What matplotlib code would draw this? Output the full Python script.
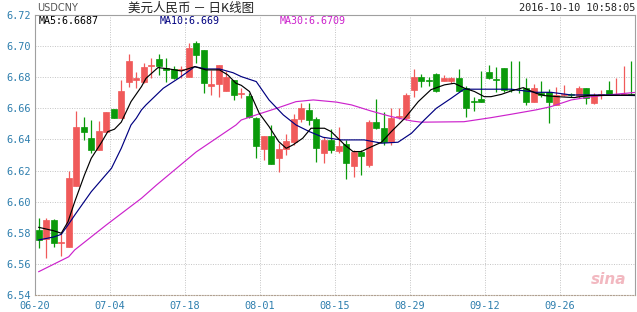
import numpy as np
import matplotlib.pyplot as plt

# ---------------------------------------------------------------------------
# data (USDCNY daily, 2016-06-20 .. 2016-10-10)
# ---------------------------------------------------------------------------

opens = [6.5818, 6.5758, 6.5882, 6.5733, 6.5710, 6.6103, 6.6482, 6.6407, 6.6332, 6.6450,
         6.6596, 6.6540, 6.6768, 6.6782, 6.6772, 6.6872, 6.6918, 6.6858, 6.6851, 6.6848,
         6.6804, 6.7019, 6.6976, 6.6746, 6.6755, 6.6714, 6.6783, 6.6695, 6.6680, 6.6536,
         6.6337, 6.6422, 6.6279, 6.6337, 6.6386, 6.6530, 6.6590, 6.6530, 6.6311, 6.6399,
         6.6326, 6.6369, 6.6232, 6.6322, 6.6236, 6.6511, 6.6476, 6.6382, 6.6545, 6.6536,
         6.6718, 6.6804, 6.6780, 6.6819, 6.6776, 6.6776, 6.6798, 6.6733, 6.6645, 6.6660,
         6.6836, 6.6789, 6.6858, 6.6720, 6.6720, 6.6733, 6.6643, 6.6697, 6.6704, 6.6622,
         6.6688, 6.6690, 6.6681, 6.6733, 6.6633, 6.6688, 6.6718, 6.6688, 6.6688, 6.6692]
closes = [6.5754, 6.5882, 6.5736, 6.5738, 6.6150, 6.6482, 6.6446, 6.6332, 6.6455, 6.6575,
          6.6540, 6.6712, 6.6905, 6.6793, 6.6868, 6.6878, 6.6875, 6.6847, 6.6798, 6.6855,
          6.6987, 6.6943, 6.6761, 6.6755, 6.6879, 6.6804, 6.6686, 6.6699, 6.6547, 6.6358,
          6.6422, 6.6242, 6.6337, 6.6390, 6.6530, 6.6600, 6.6525, 6.6343, 6.6397, 6.6329,
          6.6360, 6.6247, 6.6322, 6.6294, 6.6511, 6.6476, 6.6382, 6.6540, 6.6549, 6.6686,
          6.6804, 6.6778, 6.6776, 6.6712, 6.6798, 6.6798, 6.6712, 6.6601, 6.6641, 6.6639,
          6.6798, 6.6785, 6.6718, 6.6716, 6.6716, 6.6643, 6.6733, 6.6686, 6.6643, 6.6686,
          6.6692, 6.6686, 6.6733, 6.6665, 6.6686, 6.6692, 6.6686, 6.6692, 6.6692, 6.6688]
highs = [6.5895, 6.5897, 6.5890, 6.5800, 6.6200, 6.6583, 6.6547, 6.6525, 6.6519, 6.6575,
         6.6596, 6.6780, 6.6948, 6.6834, 6.6890, 6.6922, 6.6950, 6.6922, 6.6875, 6.6875,
         6.7019, 6.7030, 6.6976, 6.6847, 6.6879, 6.6840, 6.6783, 6.6733, 6.6697, 6.6547,
         6.6422, 6.6493, 6.6375, 6.6435, 6.6565, 6.6637, 6.6637, 6.6547, 6.6415, 6.6470,
         6.6482, 6.6397, 6.6333, 6.6333, 6.6526, 6.6658, 6.6578, 6.6605, 6.6601, 6.6697,
         6.6853, 6.6820, 6.6804, 6.6825, 6.6815, 6.6804, 6.6853, 6.6745, 6.6675, 6.6840,
         6.6879, 6.6868, 6.6858, 6.6904, 6.6904, 6.6793, 6.6755, 6.6776, 6.6725, 6.6740,
         6.6750, 6.6700, 6.6745, 6.6733, 6.6700, 6.6718, 6.6776, 6.6798, 6.6875, 6.6904]
lows = [6.5700, 6.5638, 6.5710, 6.5650, 6.5710, 6.6103, 6.6397, 6.6311, 6.6332, 6.6450,
        6.6540, 6.6540, 6.6740, 6.6731, 6.6760, 6.6793, 6.6815, 6.6772, 6.6790, 6.6797,
        6.6804, 6.6890, 6.6697, 6.6686, 6.6675, 6.6714, 6.6654, 6.6666, 6.6536, 6.6279,
        6.6268, 6.6242, 6.6193, 6.6300, 6.6365, 6.6515, 6.6490, 6.6257, 6.6247, 6.6311,
        6.6311, 6.6146, 6.6161, 6.6172, 6.6225, 6.6468, 6.6365, 6.6365, 6.6532, 6.6526,
        6.6675, 6.6740, 6.6745, 6.6705, 6.6776, 6.6765, 6.6705, 6.6547, 6.6583, 6.6639,
        6.6790, 6.6708, 6.6708, 6.6708, 6.6697, 6.6622, 6.6643, 6.6675, 6.6504, 6.6622,
        6.6680, 6.6675, 6.6665, 6.6626, 6.6625, 6.6660, 6.6686, 6.6686, 6.6686, 6.6686]

# moving averages, sampled along the lines (candle index, value)
ma5_idx = [0, 2, 3, 3.9, 4.8, 6.1, 7, 8.3, 9.2, 10.1, 11, 12.3, 13.7, 14.3, 15.9, 17.4,
           19, 20.8, 22.3, 24.1, 25.2, 26.3, 27, 28.1, 29.4, 30.7, 32, 33, 33.9, 35.2,
           36.3, 38.1, 39, 40.8, 41.9, 43, 43.9, 45.7, 47, 48.8, 50.6, 52.3, 54.1, 55.4,
           56.8, 58.1, 59.4, 60.3, 61.7, 63, 64.6, 66.3, 67.4, 69.2, 71.4, 73.2, 79.7]
ma5_val = [6.5835, 6.5813, 6.5797, 6.5871, 6.6000, 6.6172, 6.6279, 6.6376, 6.6450, 6.6466,
           6.6511, 6.6643, 6.6740, 6.6793, 6.6862, 6.6853, 6.6840, 6.6868, 6.6847, 6.6847,
           6.6815, 6.6761, 6.6748, 6.6708, 6.6568, 6.6483, 6.6386, 6.6343, 6.6365, 6.6408,
           6.6472, 6.6472, 6.6450, 6.6365, 6.6322, 6.6322, 6.6343, 6.6382, 6.6450, 6.6536,
           6.6643, 6.6720, 6.6751, 6.6761, 6.6729, 6.6708, 6.6675, 6.6675, 6.6690, 6.6712,
           6.6733, 6.6697, 6.6682, 6.6675, 6.6669, 6.6682, 6.6685]

ma10_idx = [0, 2, 3, 3.9, 4.8, 7, 9.7, 11, 12.3, 13, 13.7, 14.3, 16.6, 18.8, 20.8, 22.3,
            24.1, 25.9, 27, 29, 30.7, 32.6, 34.3, 36.1, 37.9, 40.3, 43.4, 45.7, 47.9, 49.7,
            51.4, 53, 55, 56.7, 59, 63, 66.3, 68.3, 71, 75.4, 79.7]
ma10_val = [6.5754, 6.5773, 6.5790, 6.5850, 6.5914, 6.6064, 6.6215, 6.6343, 6.6493, 6.6536,
            6.6590, 6.6622, 6.6729, 6.6798, 6.6868, 6.6853, 6.6853, 6.6829, 6.6804, 6.6772,
            6.6654, 6.6558, 6.6493, 6.6450, 6.6414, 6.6397, 6.6397, 6.6376, 6.6382, 6.6440,
            6.6525, 6.6600, 6.6665, 6.6723, 6.6723, 6.6723, 6.6703, 6.6703, 6.6686, 6.6686,
            6.6682]

ma30_idx = [0, 4, 4.8, 9, 13.7, 15.7, 21, 26.3, 27, 29, 31.7, 34.3, 36.6, 39.7, 41.7, 44.3,
            47, 49.7, 51, 56.7, 60.3, 63, 66.3, 68.3, 71, 73.7, 76.7, 79.7]
ma30_val = [6.5550, 6.5646, 6.5690, 6.5850, 6.6022, 6.6107, 6.6320, 6.6493, 6.6525, 6.6558,
            6.6600, 6.6643, 6.6654, 6.6640, 6.6622, 6.6583, 6.6547, 6.6519, 6.6511, 6.6514,
            6.6540, 6.6562, 6.6590, 6.6611, 6.6654, 6.6675, 6.6690, 6.6703]

date_labels = ['06-20', '07-04', '07-18', '08-01', '08-15', '08-29', '09-12', '09-26']
price_ticks = [6.54, 6.56, 6.58, 6.60, 6.62, 6.64, 6.66, 6.68, 6.70, 6.72]

# ---------------------------------------------------------------------------
# figure
# ---------------------------------------------------------------------------

RED = '#f05a5a'
GREEN = '#0a9a0a'
AXC = '#2f7fae'
MONO = 'DejaVu Sans Mono'

fig = plt.figure(figsize=(6.37, 3.12), dpi=100)
ax = fig.add_axes([35/637, 17/312, 600/637, 280/312])

n = len(opens)
x = np.arange(n)
o = np.array(opens)
c = np.array(closes)
up = c >= o
cols = np.where(up, RED, GREEN)

ax.vlines(x, lows, highs, colors=cols, linewidth=0.9, zorder=3)
body_bot = np.minimum(o, c)
body_h = np.maximum(np.abs(c - o), 0.0002)
ax.bar(x, body_h, bottom=body_bot, width=0.74, color=cols, edgecolor=cols,
       linewidth=0.5, zorder=4)

ax.plot(ma30_idx, ma30_val, color='#cc22cc', linewidth=0.85, zorder=5)
ax.plot(ma10_idx, ma10_val, color='#000080', linewidth=0.85, zorder=5)
ax.plot(ma5_idx, ma5_val, color='black', linewidth=0.85, zorder=6)

ax.set_xlim(-0.5, n - 0.5)
ax.set_ylim(6.54, 6.72)

tick_pos = [10*k - 0.5 for k in range(len(date_labels))]
ax.set_xticks(tick_pos)
ax.set_xticklabels(date_labels, family=MONO, fontsize=7.4, color=AXC)
ax.set_yticks(price_ticks)
ax.set_yticklabels(['%.2f' % p for p in price_ticks], family=MONO, fontsize=7.4, color=AXC)
ax.tick_params(length=0, pad=3)
ax.tick_params(axis='x', pad=4)

ax.grid(True, color='#c4c4c4', linestyle=(0, (1, 1.5)), linewidth=0.7)
ax.set_axisbelow(True)
for s in ['left', 'right', 'top']:
    ax.spines[s].set_color('#a0a0a0')
    ax.spines[s].set_linewidth(0.8)
ax.spines['bottom'].set_color('#b0a090')
ax.spines['bottom'].set_linestyle((0, (1, 1.5)))

# header texts
fig.text(37/637, 1 - 8/312, 'USDCNY', family='Liberation Sans Narrow', fontsize=7,
         color='#555555', va='center', ha='left')
fig.text(191/637, 1 - 8/312, '美元人民币 － 日K线图', family=['Noto Sans CJK SC', 'DejaVu Sans'],
         fontsize=9, color='#222222', va='center', ha='center')
fig.text(635/637, 1 - 8/312, '2016-10-10 10:58:05', family=MONO, fontsize=7.4,
         color='#222222', va='center', ha='right')

ax.text(39/637, 1 - 21/312, 'MA5:6.6687', transform=fig.transFigure, family=MONO,
        fontsize=7.2, color='black', va='center')
ax.text(160/637, 1 - 21/312, 'MA10:6.669', transform=fig.transFigure, family=MONO,
        fontsize=7.2, color='#000080', va='center')
ax.text(280/637, 1 - 21/312, 'MA30:6.6709', transform=fig.transFigure, family=MONO,
        fontsize=7.2, color='#cc22cc', va='center')

# watermark
ax.text(0.985, 0.03, 'sina', transform=ax.transAxes, ha='right', va='bottom',
        fontsize=11, style='italic', fontweight='bold', color='#f2b8c0', zorder=2)

fig.savefig('out.png', dpi=100)
